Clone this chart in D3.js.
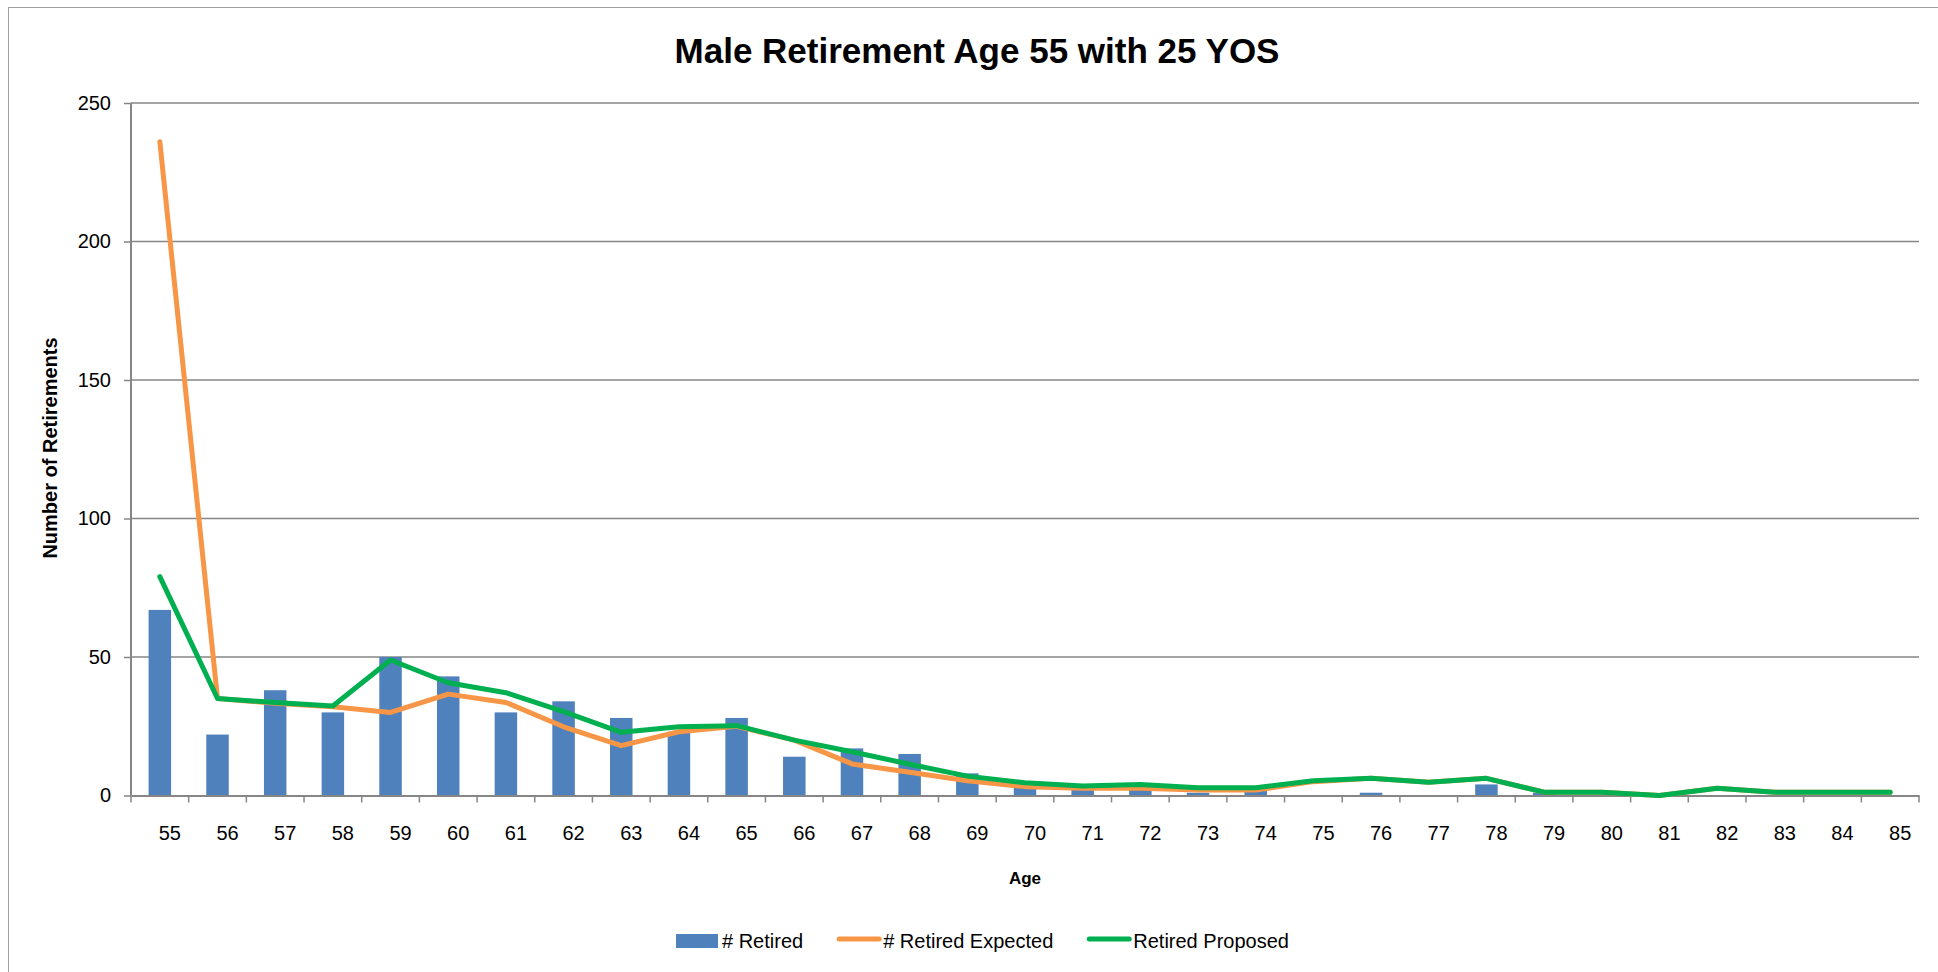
<!DOCTYPE html>
<html>
<head>
<meta charset="utf-8">
<script src="https://cdn.jsdelivr.net/npm/d3@7"></script>
<style>
  body { margin: 0; background: #fff; }
  svg text { font-family: "Liberation Sans", Arial, sans-serif; fill: #000; }
</style>
</head>
<body>
<svg id="chart"></svg>
<script>
// chart data
var ages = d3.range(55, 86)
var retired = [67, 22, 38, 30, 50, 43, 30, 34, 28, 23, 28, 14, 17, 15, 8, 4, 3, 3, 1, 2,
  0, 1, 0, 4, 1, 0, 0, 0, 0, 0, 0]
var retiredExpected = [236, 35, 33.3, 32, 30, 36.6, 33.6, 24.8, 18, 23, 25, 20, 11.4, 8.4, 5.3, 3.2, 2.6, 2.6, 2, 2,
  5, 6.2, 4.8, 6.2, 1.2, 1.2, 0, 2.6, 1.2, 1.2, 1.2]
var retiredProposed = [79, 35, 33.6, 32.3, 48.9, 40.7, 37.1, 30.3, 22.8, 24.8, 25.2, 20, 15.8, 11.3, 7, 4.6, 3.4, 4, 2.8, 2.8,
  5.3, 6.2, 4.8, 6.2, 1.2, 1.2, 0, 2.6, 1.2, 1.2, 1.2]
var yTicks = [0, 50, 100, 150, 200, 250]
var seriesNames = ["# Retired", "# Retired Expected", "Retired Proposed"]
var seriesColors = ["#4F81BD", "#F79646", "#00B050"]

var width = 1938,
  height = 972,
  plot = { left: 131, right: 1919, top: 103, bottom: 795.5 },
  axisColor = "#868686"

var svg = d3.select("#chart")
  .attr("width", width)
  .attr("height", height)

// chart border
svg.append("rect")
  .attr("x", 8.5).attr("y", 7.5)
  .attr("width", width).attr("height", height)
  .attr("fill", "none")
  .attr("stroke", "#a0a0a0")
  .attr("stroke-width", 1)

var x = d3.scaleBand()
  .domain(ages)
  .range([plot.left, plot.right])
  .padding(0)

var y = d3.scaleLinear()
  .domain([0, 250])
  .range([plot.bottom, plot.top])

// gridlines + y labels
var yAxis = svg.append("g")
  .attr("transform", "translate(" + plot.left + ",0)")
  .call(d3.axisLeft(y).tickValues(yTicks).tickSize(7).tickPadding(13))
yAxis.select(".domain").remove()
yAxis.selectAll(".tick line").attr("stroke", axisColor).attr("stroke-width", 1.5)
yAxis.selectAll(".tick text").style("font-size", "20px")

svg.append("g")
  .selectAll("line")
  .data(yTicks.filter(function (d) { return d > 0 }))
  .enter()
  .append("line")
  .attr("x1", plot.left).attr("x2", plot.right)
  .attr("y1", function (d) { return y(d) })
  .attr("y2", function (d) { return y(d) })
  .attr("stroke", axisColor)
  .attr("stroke-width", 1.5)

// bars
var barW = x.bandwidth() * 0.39
svg.append("g")
  .selectAll("rect")
  .data(retired)
  .enter()
  .append("rect")
  .attr("x", function (d, i) { return x(ages[i]) + (x.bandwidth() - barW) / 2 })
  .attr("y", function (d) { return y(d) })
  .attr("width", barW)
  .attr("height", function (d) { return y(0) - y(d) })
  .attr("fill", seriesColors[0])

// axes lines
svg.append("line")
  .attr("x1", plot.left).attr("x2", plot.left)
  .attr("y1", plot.top).attr("y2", plot.bottom)
  .attr("stroke", axisColor).attr("stroke-width", 2)

var xAxis = svg.append("g")
  .attr("transform", "translate(0," + plot.bottom + ")")
  .call(d3.axisBottom(x).tickSize(0).tickPadding(30))
xAxis.select(".domain").attr("stroke", axisColor).attr("stroke-width", 2)
xAxis.selectAll(".tick text").style("font-size", "20px").attr("dx", 10)

// category boundary ticks
svg.append("g")
  .selectAll("line")
  .data(d3.range(ages.length + 1))
  .enter()
  .append("line")
  .attr("x1", function (i) { return plot.left + i * x.step() })
  .attr("x2", function (i) { return plot.left + i * x.step() })
  .attr("y1", plot.bottom).attr("y2", plot.bottom + 7)
  .attr("stroke", axisColor).attr("stroke-width", 1.5)

// lines
var line = d3.line()
  .x(function (d, i) { return x(ages[i]) + x.bandwidth() / 2 })
  .y(function (d) { return y(d) })

;[retiredExpected, retiredProposed].forEach(function (s, k) {
  svg.append("path")
    .datum(s)
    .attr("d", line)
    .attr("fill", "none")
    .attr("stroke", seriesColors[k + 1])
    .attr("stroke-width", 5)
    .attr("stroke-linejoin", "round")
    .attr("stroke-linecap", "round")
})

// titles
svg.append("text")
  .attr("x", 977).attr("y", 63)
  .attr("text-anchor", "middle")
  .style("font-size", "35px").style("font-weight", "bold")
  .text("Male Retirement Age 55 with 25 YOS")

svg.append("text")
  .attr("transform", "translate(57," + 448 + ") rotate(-90)")
  .attr("text-anchor", "middle")
  .style("font-size", "20px").style("font-weight", "bold")
  .text("Number of Retirements")

svg.append("text")
  .attr("x", (plot.left + plot.right) / 2).attr("y", 884)
  .attr("text-anchor", "middle")
  .style("font-size", "17px").style("font-weight", "bold")
  .text("Age")

// legend
var lx = 676, ly = 941
seriesNames.forEach(function (name, i) {
  var g = svg.append("g")
  if (i === 0) {
    g.append("rect")
      .attr("x", lx).attr("y", ly - 7)
      .attr("width", 42).attr("height", 14)
      .attr("fill", seriesColors[i])
  } else {
    g.append("line")
      .attr("x1", lx + 2).attr("x2", lx + 42)
      .attr("y1", ly - 2).attr("y2", ly - 2)
      .attr("stroke", seriesColors[i])
      .attr("stroke-width", 5)
      .attr("stroke-linecap", "round")
  }
  var t = g.append("text")
    .attr("x", lx + 46).attr("y", ly + 7)
    .style("font-size", "20px")
    .text(name)
  lx += 46 + t.node().getComputedTextLength() + 34
})
</script>
</body>
</html>
